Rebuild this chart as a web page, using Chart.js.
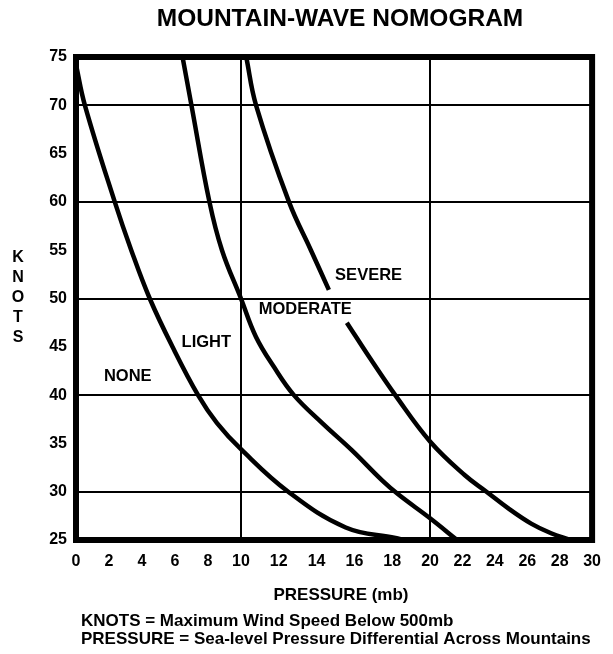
<!DOCTYPE html>
<html>
<head>
<meta charset="utf-8">
<title>Mountain-Wave Nomogram</title>
<script src="https://cdn.jsdelivr.net/npm/chart.js@4.4.1/dist/chart.umd.min.js"></script>
<style>
    body { margin: 0; background: #fff; }
    #wrap { width: 613px; height: 654px; }
</style>
</head>
<body>
<div id="wrap"><canvas id="nomogram" width="613" height="654"></canvas></div>
<script>
// boundary curves (pressure mb -> knots)
const lightX = [0, 0.54, 2.35, 3.35, 4.47, 5.85, 7.4, 8.55, 10, 12.5, 15.54, 18.17, 18.6];
const lightY = [74.2, 70, 60, 55, 50, 45, 40, 37.1, 34.4, 30, 26.3, 25.2, 25];

const moderateX = [6.46, 7.0, 8.09, 8.85, 10, 10.79, 11.75, 12.8, 14.3, 15.86, 17.45, 18.33, 20, 21.63];
const moderateY = [75, 70, 60, 55, 50, 46.05, 42.9, 40, 37.1, 34.3, 31.2, 29.7, 27.25, 25.05];

// null = break in the line where the MODERATE label sits
const severeX = [10.28, 10.8, 12.54, 13.7, 14.65, 15.1, 15.6, 16.9, 18.16, 20, 22.15, 23.48, 24.81, 26.24, 27.47, 28.6];
const severeY = [75, 70, 60, 55, 50.9, null, 47.5, 43.6, 40, 35.2, 31.7, 30, 28.3, 26.7, 25.7, 25.05];

const zoneNames = ['NONE', 'LIGHT', 'MODERATE', 'SEVERE'];
const zoneX = [3.14, 7.9, 13.4, 16.75];
const zoneY = [41.9, 45.4, 48.9, 52.4];

const FONT = '"Liberation Sans", Arial, Helvetica, sans-serif';

// the printed pressure axis is not evenly spaced: 0-10 and 20-30 are
// narrower than 10-20, so map values piecewise between these stops
class PiecewiseScale extends Chart.LinearScale {
    toDecimal(value) {
        const stops = this.options.stops;
        const at = this.options.stopAt;
        for (let i = 1; i < stops.length; i++) {
            if (value <= stops[i] || i === stops.length - 1) {
                const t = (value - stops[i - 1]) / (stops[i] - stops[i - 1]);
                return at[i - 1] + t * (at[i] - at[i - 1]);
            }
        }
        return 0;
    }
    getPixelForValue(value) {
        if (value === null || isNaN(value)) {
            return NaN;
        }
        return this.getPixelForDecimal(this.toDecimal(value));
    }
    getValueForPixel(pixel) {
        const d = this.getDecimalForPixel(pixel);
        const stops = this.options.stops;
        const at = this.options.stopAt;
        for (let i = 1; i < at.length; i++) {
            if (d <= at[i] || i === at.length - 1) {
                const t = (d - at[i - 1]) / (at[i] - at[i - 1]);
                return stops[i - 1] + t * (stops[i] - stops[i - 1]);
            }
        }
        return 0;
    }
}
PiecewiseScale.id = 'piecewise';
PiecewiseScale.defaults = Chart.LinearScale.defaults;
Chart.register(PiecewiseScale);

function toPoints(xs, ys) {
    return xs.map(function (x, i) {
        return { x: x, y: ys[i] };
    });
}

function curve(label, xs, ys) {
    return {
        label: label,
        data: toPoints(xs, ys),
        showLine: true,
        borderColor: '#000',
        borderWidth: 4.5,
        pointRadius: 0,
        tension: 0.4,
        spanGaps: false
    };
}

const nomogramText = {
    id: 'nomogramText',
    afterDatasetsDraw(chart) {
        const ctx = chart.ctx;
        const area = chart.chartArea;
        const xs = chart.scales.x;
        const ys = chart.scales.y;
        ctx.save();

        // heavy frame round the plot
        ctx.strokeStyle = '#000';
        ctx.lineWidth = 6;
        ctx.strokeRect(area.left, area.top, area.right - area.left, area.bottom - area.top);

        ctx.fillStyle = '#000';
        ctx.textAlign = 'center';
        ctx.textBaseline = 'middle';

        ctx.font = 'bold 16.5px ' + FONT;
        zoneNames.forEach(function (name, i) {
            ctx.fillText(name, xs.getPixelForValue(zoneX[i]), ys.getPixelForValue(zoneY[i]));
        });

        ctx.font = 'bold 24.5px ' + FONT;
        ctx.fillText('MOUNTAIN-WAVE NOMOGRAM', 340, 19);

        ctx.font = 'bold 16px ' + FONT;
        'KNOTS'.split('').forEach(function (ch, i) {
            ctx.fillText(ch, 18, 258 + i * 20);
        });

        ctx.font = 'bold 17px ' + FONT;
        ctx.fillText('PRESSURE (mb)', 341, 595);

        ctx.textAlign = 'left';
        ctx.font = 'bold 17px ' + FONT;
        ctx.fillText('KNOTS = Maximum Wind Speed Below 500mb', 81, 621);
        ctx.fillText('PRESSURE = Sea-level Pressure Differential Across Mountains', 81, 639);
        ctx.restore();
    }
};

new Chart(document.getElementById('nomogram'), {
    type: 'scatter',
    data: {
        datasets: [
            curve('None / Light', lightX, lightY),
            curve('Light / Moderate', moderateX, moderateY),
            curve('Moderate / Severe', severeX, severeY)
        ]
    },
    options: {
        responsive: false,
        animation: false,
        layout: { padding: { top: 57, right: 18.5, left: 0, bottom: 0 } },
        plugins: {
            legend: { display: false },
            tooltip: { enabled: false }
        },
        scales: {
            x: {
                type: 'piecewise',
                min: 0,
                max: 30,
                stops: [0, 10, 20, 30],
                stopAt: [0, 0.3196, 0.686, 1],
                afterFit: function (scale) { scale.height = 114; },
                ticks: {
                    stepSize: 2,
                    padding: 12,
                    color: '#000',
                    font: { family: FONT, size: 16, weight: 'bold' }
                },
                grid: {
                    drawTicks: false,
                    lineWidth: 2,
                    color: function (c) {
                        const v = c.tick && c.tick.value;
                        return (v === 10 || v === 20) ? '#000' : 'rgba(0,0,0,0)';
                    }
                },
                border: { display: false }
            },
            y: {
                type: 'linear',
                min: 25,
                max: 75,
                afterFit: function (scale) { scale.width = 76; },
                ticks: {
                    stepSize: 5,
                    padding: 9,
                    color: '#000',
                    font: { family: FONT, size: 16, weight: 'bold' }
                },
                grid: {
                    drawTicks: false,
                    lineWidth: 2,
                    color: function (c) {
                        const v = c.tick && c.tick.value;
                        return (v % 10 === 0 && v > 25 && v < 75) ? '#000' : 'rgba(0,0,0,0)';
                    }
                },
                border: { display: false }
            }
        }
    },
    plugins: [nomogramText]
});
</script>
</body>
</html>
